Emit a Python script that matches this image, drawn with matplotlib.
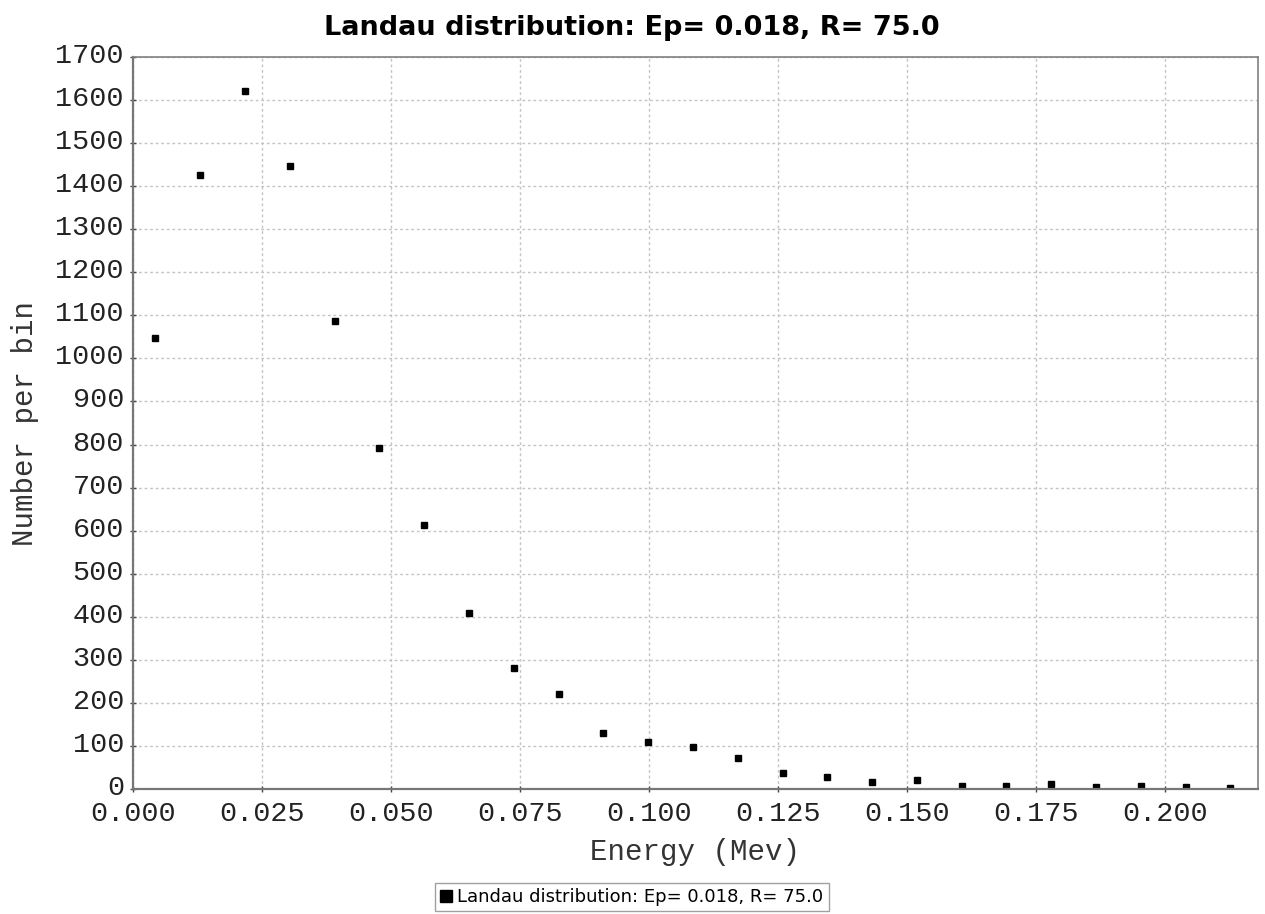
import numpy as np
import matplotlib
matplotlib.use('Agg')
import matplotlib.pyplot as plt
import matplotlib.transforms as mtransforms
from matplotlib.lines import Line2D
import warnings
warnings.filterwarnings('ignore')

# ── Data: Landau energy-loss histogram, 25 bins ─────────────
bin_width = 0.00868
n_bins    = 25
energy    = (np.arange(n_bins) + 0.5) * bin_width
counts    = [1047, 1426, 1622, 1448, 1086, 792, 612, 408, 280, 221,
             131, 110, 97, 71, 38, 29, 16, 21, 7, 7,
             12, 5, 7, 4, 3]
x_ticks   = [0.000, 0.025, 0.050, 0.075, 0.100, 0.125, 0.150, 0.175, 0.200]
y_ticks   = list(range(0, 1701, 100))

title = 'Landau distribution: Ep= 0.018, R= 75.0'

MONO  = 'Liberation Mono'
GRID  = '#c4c4c4'
EDGE  = '#808080'

# ── Figure ──────────────────────────────────────────────────
W, H = 1265, 914
fig = plt.figure(figsize=(W / 100, H / 100), dpi=100)
L, R, T, B = 133, 1258, 57, 789
ax = fig.add_axes([L / W, 1 - B / H, (R - L) / W, (B - T) / H])

ax.plot(energy, counts, ls='none', marker='s', ms=5, color='black', mec='black')

ax.set_xlim(0, 0.218)
ax.set_ylim(0, 1700)
ax.set_xticks(x_ticks)
ax.set_xticklabels([f'{v:.3f}' for v in x_ticks])
ax.set_yticks(y_ticks)
ax.grid(True, color=GRID, ls=(0, (2, 2)), lw=1)
ax.set_axisbelow(True)

ax.tick_params(axis='both', direction='inout', length=5, width=1, color='#444444')
ax.tick_params(axis='x', pad=6)
ax.tick_params(axis='y', pad=4)

# value labels sit a few pixels above their tick marks
lift = mtransforms.ScaledTranslation(0, 4 / 100, fig.dpi_scale_trans)
for lab in ax.get_yticklabels():
    lab.set_transform(lab.get_transform() + lift)
for lab in ax.get_xticklabels() + ax.get_yticklabels():
    lab.set_fontfamily(MONO)
    lab.set_fontsize(20.5)
    lab.set_color('#222222')

for side in ['top', 'right']:
    ax.spines[side].set_color(EDGE)
    ax.spines[side].set_linewidth(1.2)
for side in ['left', 'bottom']:
    ax.spines[side].set_color('#777777')
    ax.spines[side].set_linewidth(1.6)

ax.set_xlabel('Energy (Mev)', fontfamily=MONO, fontsize=21, color='#333333', labelpad=8)
ax.set_ylabel('Number per bin', fontfamily=MONO, fontsize=21, color='#333333', labelpad=12)

fig.text(632 / W, 1 - 28 / H, title, ha='center', va='center',
         fontsize=19.5, fontweight='bold', family='DejaVu Sans')

# legend box at the bottom
handle = Line2D([], [], ls='none', marker='s', ms=9, color='black')
leg = fig.legend([handle], [title], loc='center', bbox_to_anchor=(632 / W, 1 - 897 / H),
                 frameon=True, fancybox=False, edgecolor='#888888', handlelength=0.6,
                 handletextpad=0.3, borderpad=0.3, borderaxespad=0,
                 prop={'family': ['Liberation Sans Narrow', 'DejaVu Sans Condensed', 'DejaVu Sans'],
                       'size': 13})
leg.get_frame().set_linewidth(1.0)

fig.savefig('out.png', dpi=100)
plt.close(fig)
